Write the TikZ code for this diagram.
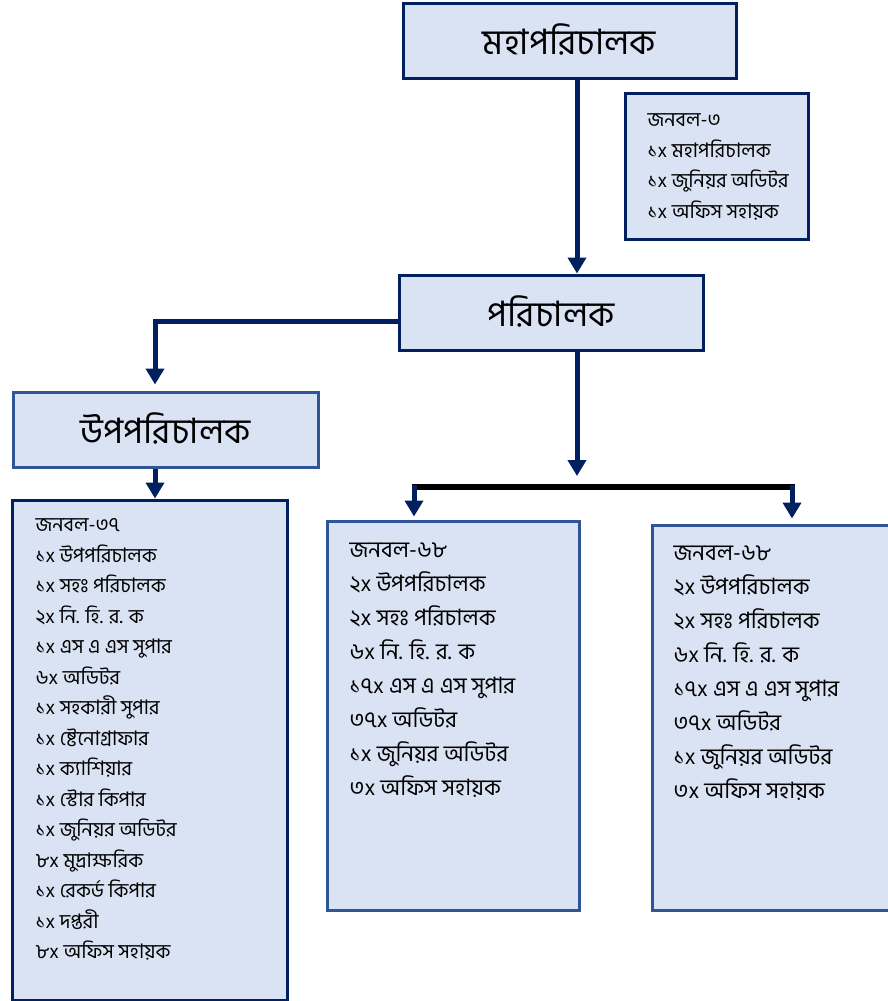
\documentclass[tikz,border=0pt]{standalone}
\usepackage{fontspec}
\usepackage{xcolor}
\newfontfamily\bn[Script=Bengali]{Hind Siliguri}
\usetikzlibrary{arrows.meta, positioning, calc}

\definecolor{boxfill}{HTML}{DAE3F3}
\definecolor{navy}{HTML}{002060}
\definecolor{midblue}{HTML}{2F5597}

\begin{document}
\begin{tikzpicture}[x=1pt, y=-1pt,
    headbox/.style={fill=boxfill, line width=3pt, inner sep=0pt, font=\bn\fontsize{35}{40}\selectfont},
    staffbox/.style={fill=boxfill, line width=3pt, inner sep=0pt},
    smalllist/.style={anchor=north west, align=left, inner sep=0pt, font=\bn\fontsize{20}{30.5}\selectfont},
    biglist/.style={anchor=north west, align=left, inner sep=0pt, font=\bn\fontsize{22.5}{34}\selectfont},
    conn/.style={draw=navy, line width=5pt, -{Triangle[width=18pt,length=16pt]}},
    bar/.style={draw=black, line width=6pt}]
    \useasboundingbox (0,0) rectangle (888,1001);
    \clip (0,0) rectangle (888,1001);

    % boxes
    \node[headbox, draw=navy, minimum width=333pt, minimum height=75pt] (dg) at (569.5,40.5) {\raisebox{3pt}{মহাপরিচালক}};
    \node[staffbox, draw=navy, minimum width=183pt, minimum height=146pt] (dgstaff) at (716.5,166) {};
    \node[headbox, draw=navy, minimum width=304pt, minimum height=75pt] (dir) at (551,312.5) {\raisebox{3pt}{পরিচালক}};
    \node[headbox, draw=midblue, minimum width=305pt, minimum height=75pt] (ddg) at (165.5,429.5) {\raisebox{3pt}{উপপরিচালক}};
    \node[staffbox, draw=navy, minimum width=275pt, minimum height=500pt] (ddgstaff) at (149.5,750) {};
    \node[staffbox, draw=midblue, minimum width=252pt, minimum height=389pt] (staffA) at (453,715.5) {};
    \node[staffbox, draw=midblue, minimum width=280pt, minimum height=385pt] (staffB) at (792,717.5) {};

    % lists
    \node[smalllist] (dglist) at ([shift={(24,22)}]dgstaff.north west)
        {জনবল-৩\\১x মহাপরিচালক\\১x জুনিয়র অডিটর\\১x অফিস সহায়ক};
    \node[smalllist] (ddglist) at ([shift={(25,20)}]ddgstaff.north west)
        {জনবল-৩৭\\১x উপপরিচালক\\১x সহঃ পরিচালক\\২x নি. হি. র. ক\\১x এস এ এস সুপার\\৬x অডিটর\\১x সহকারী সুপার\\১x ষ্টেনোগ্রাফার\\১x ক্যাশিয়ার\\১x স্টোর কিপার\\১x জুনিয়র অডিটর\\৮x মুদ্রাক্ষরিক\\১x রেকর্ড কিপার\\১x দপ্তরী\\৮x অফিস সহায়ক};
    \node[biglist] (listA) at ([shift={(24,23)}]staffA.north west)
        {জনবল-৬৮\\২x উপপরিচালক\\২x সহঃ পরিচালক\\৬x নি. হি. র. ক\\১৭x এস এ এস সুপার\\৩৭x অডিটর\\১x জুনিয়র অডিটর\\৩x অফিস সহায়ক};
    \node[biglist] (listB) at ([shift={(23,22)}]staffB.north west)
        {জনবল-৬৮\\২x উপপরিচালক\\২x সহঃ পরিচালক\\৬x নি. হি. র. ক\\১৭x এস এ এস সুপার\\৩৭x অডিটর\\১x জুনিয়র অডিটর\\৩x অফিস সহায়ক};

    % connectors
    \coordinate (trunk) at (577,0);
    \coordinate (lefttrunk) at (155,0);
    \coordinate (split) at (577,476);
    \coordinate (dropA) at (414,487);
    \coordinate (dropB) at (792,487);

    \draw[conn] (dg.south -| trunk) -- (dir.north -| trunk);
    \draw[conn, shorten >=6pt] ([yshift=-8.5pt]dir.west) -| (ddg.north -| lefttrunk);
    \draw[conn] (ddg.south -| lefttrunk) -- (ddgstaff.north -| lefttrunk);
    \draw[conn] (dir.south -| trunk) -- (split);
    \draw[bar] ([xshift=-2pt]dropA) -- ([xshift=3pt]dropB);
    \draw[conn, shorten >=3pt] ([yshift=2pt]dropA) -- (dropA |- staffA.north);
    \draw[conn, shorten >=5pt] ([yshift=2pt]dropB) -- (dropB |- staffB.north);
\end{tikzpicture}
\end{document}
